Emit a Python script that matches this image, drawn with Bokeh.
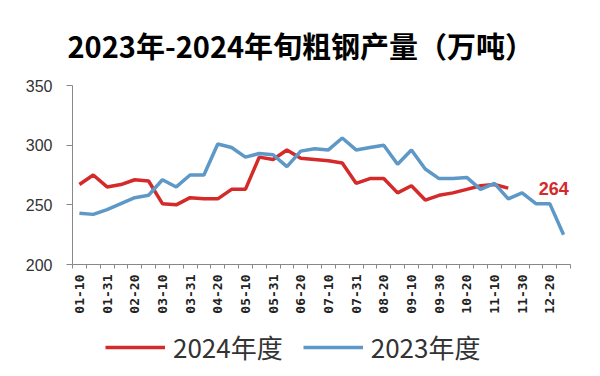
from bokeh.plotting import figure
from bokeh.layouts import column
from bokeh.models import FixedTicker, Legend, LegendItem, Label, Range1d
from bokeh.embed import file_html
from bokeh.resources import INLINE

categories = ["01-10", "01-20", "01-31", "02-10", "02-20", "02-29", "03-10", "03-20", "03-31",
              "04-10", "04-20", "04-30", "05-10", "05-20", "05-31", "06-10", "06-20", "06-30",
              "07-10", "07-20", "07-31", "08-10", "08-20", "08-31", "09-10", "09-20", "09-30",
              "10-10", "10-20", "10-31", "11-10", "11-20", "11-30", "12-10", "12-20", "12-31"]

tick_labels = ["01-10", "01-31", "02-20", "03-10", "03-31", "04-20", "05-10", "05-31", "06-20",
               "07-10", "07-31", "08-20", "09-10", "09-30", "10-20", "11-10", "11-30", "12-20"]

y2024 = [267, 275, 265, 267, 271, 270, 251, 250, 256, 255, 255, 263, 263, 290, 288, 296, 289, 288,
         287, 285, 268, 272, 272, 260, 266, 254, 258, 260, 263, 266, 267, 264]

y2023 = [243, 242, 246, 251, 256, 258, 271, 265, 275, 275, 301, 298, 290, 293, 292, 282, 295, 297,
         296, 306, 296, 298, 300, 284, 296, 280, 272, 272, 273, 263, 268, 255, 260, 251, 251, 225]

series_names = ["2024年度", "2023年度"]
last_label = "264"

RED = "#d42a2a"
BLUE = "#5e98c6"

p = figure(width=600, height=322, output_backend="svg", toolbar_location=None,
           x_range=Range1d(-0.5, len(categories) - 0.5), y_range=Range1d(200, 350),
           min_border_left=72, min_border_right=30, min_border_top=85, min_border_bottom=58)

x24 = list(range(len(y2024)))
x23 = list(range(len(y2023)))
p.line(x24, y2024, line_color=RED, line_width=3.5)
p.line(x23, y2023, line_color=BLUE, line_width=3.5)

# title
p.title.text = "2023年-2024年旬粗钢产量（万吨）"
p.title.text_font = "Noto Sans CJK SC"
p.title.text_font_size = "29px"
p.title.text_font_style = "bold"
p.title.text_color = "#000000"
p.title.align = "left"
p.title.offset = -5
p.title.standoff = 40

# axes
p.xgrid.visible = False
p.ygrid.visible = False
p.outline_line_color = None

xa = p.xaxis[0]
label_pos = [categories.index(t) for t in tick_labels]
xa.ticker = FixedTicker(ticks=label_pos, minor_ticks=[i - 0.5 for i in range(len(categories) + 1)])
xa.major_label_overrides = {i: t for i, t in zip(label_pos, tick_labels)}
xa.major_label_orientation = 1.5708
xa.major_tick_line_color = None
xa.major_tick_out = 0
xa.minor_tick_line_color = "#888888"
xa.minor_tick_out = 4
xa.minor_tick_in = 0
xa.axis_line_color = "#888888"
xa.major_label_text_font = "DejaVu Sans Mono"
xa.major_label_text_font_style = "bold"
xa.major_label_text_font_size = "13px"
xa.major_label_text_color = "#222222"
xa.major_label_standoff = 6

ya = p.yaxis[0]
ya.ticker = FixedTicker(ticks=[200, 250, 300, 350])
ya.minor_tick_line_color = None
ya.major_tick_out = 6
ya.major_tick_in = 0
ya.major_tick_line_color = "#888888"
ya.axis_line_color = "#888888"
ya.major_label_text_font = "Liberation Sans"
ya.major_label_text_font_size = "16px"
ya.major_label_text_color = "#333333"
ya.major_label_standoff = 14

# end label
p.add_layout(Label(x=len(y2024) + 1.2, y=y2024[-1], text=last_label, text_color=RED,
                   text_font="Liberation Sans", text_font_size="18px", text_font_style="bold",
                   text_baseline="middle", text_align="left"))

# legend figure (frame aligned with the main plot's frame by the column layout)
lg = figure(width=600, height=54, output_backend="svg", toolbar_location=None,
            x_range=Range1d(0, 1), y_range=Range1d(0, 1),
            min_border_left=0, min_border_right=0, min_border_top=0, min_border_bottom=0)
lg.axis.visible = False
lg.grid.visible = False
lg.outline_line_color = None
d24 = lg.line([-10, -9], [-10, -10], line_color=RED, line_width=3.5)
d23 = lg.line([-10, -9], [-10, -10], line_color=BLUE, line_width=3.5)
legend = Legend(items=[LegendItem(label=series_names[0], renderers=[d24]),
                       LegendItem(label=series_names[1], renderers=[d23])],
                orientation="horizontal", location=(33, 11),
                glyph_width=60, glyph_height=26, label_height=26, label_standoff=8, spacing=20,
                padding=0, margin=0, border_line_color=None, background_fill_alpha=0,
                label_text_font="Noto Sans CJK SC", label_text_font_size="26px",
                label_text_color="#333333")
lg.add_layout(legend)

open("out.html", "w").write(file_html(column(p, lg, spacing=0), INLINE))
